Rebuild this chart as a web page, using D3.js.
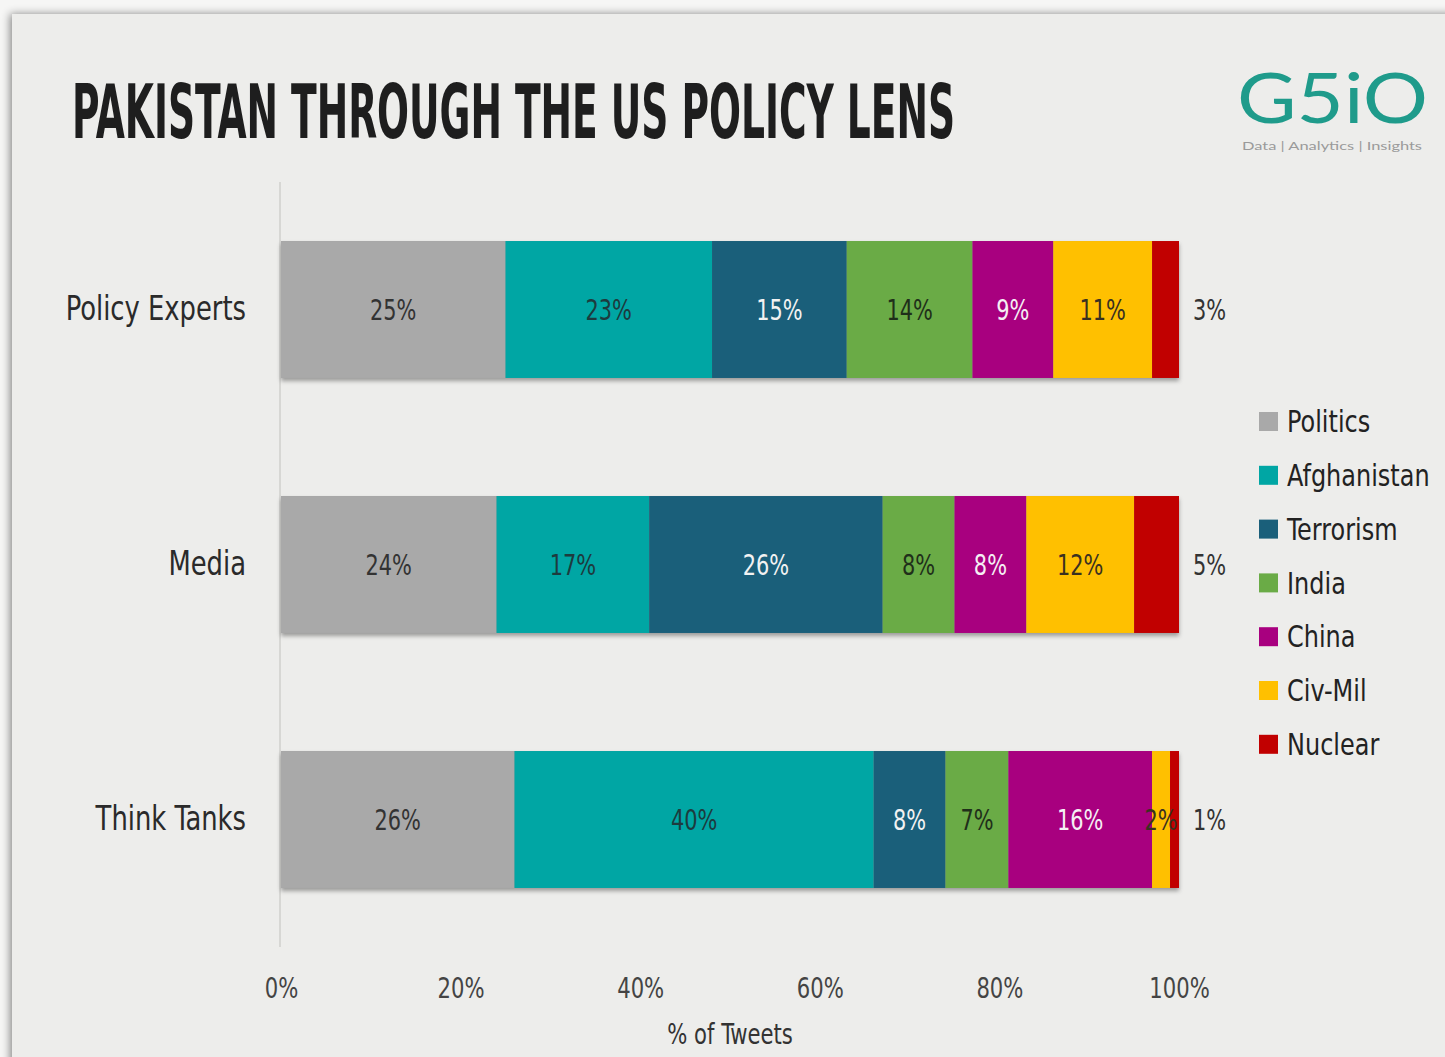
<!DOCTYPE html>
<html>
<head>
<meta charset="utf-8">
<script src="https://cdn.jsdelivr.net/npm/d3@7"></script>
<style>
  body { margin: 0; background: #f6f6f5; }
  #container { width: 1445px; height: 1057px; }
  text { font-family: "DejaVu Sans Condensed", "DejaVu Sans", sans-serif; }
</style>
</head>
<body>
<div id="container"></div>
<script>
// data
const groups = ["Policy Experts", "Media", "Think Tanks"];
const topics = ["Politics", "Afghanistan", "Terrorism", "India", "China", "Civ-Mil", "Nuclear"];
const policyExperts = [25, 23, 15, 14, 9, 11, 3];
const media = [24, 17, 26, 8, 8, 12, 5];
const thinkTanks = [26, 40, 8, 7, 16, 2, 1];
const xTicks = [0, 20, 40, 60, 80, 100];
const colors = ["#a9a9a9", "#00a6a4", "#1a5f7a", "#6aab46", "#a8007f", "#ffc000", "#c10000"];
const labelColors = ["#333", "#1d3b3e", "#f2f2f2", "#1f2f1a", "#f5eef4", "#3a3020", "#333"];

const w = 1445;
const h = 1057;
const squeeze = "scale(0.84,1)";
const svg = d3.select("#container")
  .append("svg")
  .attr("width", w)
  .attr("height", h);

const defs = svg.append("defs");
const sh = defs.append("filter").attr("id", "panelShadow").attr("x", "-5%").attr("y", "-5%").attr("width", "110%").attr("height", "110%");
sh.append("feDropShadow").attr("dx", -2).attr("dy", 0).attr("stdDeviation", 4).attr("flood-color", "#000").attr("flood-opacity", 0.45);
const bs = defs.append("filter").attr("id", "barShadow").attr("x", "-5%").attr("y", "-10%").attr("width", "110%").attr("height", "130%");
bs.append("feDropShadow").attr("dx", 0).attr("dy", 3).attr("stdDeviation", 2).attr("flood-color", "#000").attr("flood-opacity", 0.35);

// panel
svg.append("rect")
  .attr("x", 12).attr("y", 14)
  .attr("width", w + 20).attr("height", h + 20)
  .attr("fill", "#ededeb")
  .attr("filter", "url(#panelShadow)");

// title
svg.append("text")
  .attr("x", 72).attr("y", 138)
  .attr("textLength", 883)
  .attr("lengthAdjust", "spacingAndGlyphs")
  .style("font-weight", "bold")
  .style("font-size", "75px")
  .attr("fill", "#1e1e1e")
  .text("PAKISTAN THROUGH THE US POLICY LENS");

// logo
svg.append("text")
  .attr("x", 1237).attr("y", 123)
  .attr("textLength", 191)
  .attr("lengthAdjust", "spacingAndGlyphs")
  .style("font-family", "Lato, 'Open Sans', sans-serif")
  .style("font-size", "70px")
  .attr("fill", "#1f9b8b")
  .text("G5iO");
svg.append("text")
  .attr("x", 1242).attr("y", 150)
  .attr("textLength", 180)
  .attr("lengthAdjust", "spacingAndGlyphs")
  .style("font-family", "Lato, sans-serif")
  .style("font-size", "11px")
  .attr("fill", "#9a9a9a")
  .text("Data | Analytics | Insights");

const xScale = d3.scaleLinear().domain([0, 100]).range([281, 1179]);
const yScale = d3.scaleBand().domain(groups).range([182, 947]).paddingInner(0.463).paddingOuter(0.2315);

// vertical axis line
svg.append("line")
  .attr("x1", xScale(0) - 1).attr("x2", xScale(0) - 1)
  .attr("y1", yScale.range()[0]).attr("y2", yScale.range()[1])
  .attr("stroke", "#cfcfcd").attr("stroke-width", 1.5);

// x axis
const xAxis = d3.axisBottom(xScale).tickValues(xTicks).tickSize(0).tickPadding(0).tickFormat((d) => d + "%");
const gx = svg.append("g")
  .attr("transform", "translate(0, 978)")
  .call(xAxis);
gx.select(".domain").remove();
gx.selectAll("text")
  .style("font-size", "28px")
  .attr("fill", "#444")
  .attr("dy", "0.71em")
  .attr("transform", squeeze);

svg.append("text")
  .attr("transform", "translate(" + ((xScale(0) + xScale(100)) / 2) + ",1044) " + squeeze)
  .attr("text-anchor", "middle")
  .style("font-size", "28px")
  .attr("fill", "#333")
  .text("% of Tweets");

// y axis labels
const yAxis = d3.axisLeft(yScale).tickSize(0).tickPadding(0);
const gy = svg.append("g")
  .attr("transform", "translate(246, 0)")
  .call(yAxis);
gy.select(".domain").remove();
gy.selectAll("text")
  .style("font-size", "33px")
  .attr("fill", "#2a2a2a")
  .attr("dy", "0.32em")
  .attr("transform", "scale(0.87,1)");

// stacked data
const rows = [policyExperts, media, thinkTanks].map((vals, gi) => {
  const r = { group: groups[gi] };
  topics.forEach((t, i) => { r[t] = vals[i]; });
  return r;
});
const stacked = d3.stack().keys(topics)(rows);

// shadow under whole bars
svg.append("g")
  .selectAll("rect")
  .data(groups)
  .enter()
  .append("rect")
  .attr("x", xScale(0))
  .attr("y", (d) => yScale(d))
  .attr("width", xScale(100) - xScale(0))
  .attr("height", yScale.bandwidth())
  .attr("fill", "#999")
  .attr("filter", "url(#barShadow)");

const layers = svg.selectAll("g.layer")
  .data(stacked)
  .enter()
  .append("g")
  .attr("class", "layer")
  .attr("fill", (d, i) => colors[i]);

layers.selectAll("rect")
  .data((d) => d)
  .enter()
  .append("rect")
  .attr("x", (d) => xScale(d[0]))
  .attr("y", (d) => yScale(d.data.group))
  .attr("width", (d) => xScale(d[1]) - xScale(d[0]))
  .attr("height", yScale.bandwidth());

// value labels
stacked.forEach((layer, i) => {
  const last = i === topics.length - 1;
  svg.append("g")
    .selectAll("text")
    .data(layer)
    .enter()
    .append("text")
    .attr("transform", (d) => {
      const x = last ? xScale(100) + 14 : xScale((d[0] + d[1]) / 2);
      const y = yScale(d.data.group) + yScale.bandwidth() / 2;
      return "translate(" + x + "," + y + ") scale(0.8,1)";
    })
    .attr("dy", "0.35em")
    .attr("text-anchor", last ? "start" : "middle")
    .style("font-size", "29px")
    .attr("fill", last ? "#333" : labelColors[i])
    .text((d) => (d[1] - d[0]) + "%");
});

// legend
const legend = svg.append("g").attr("transform", "translate(1259, 421)");
const items = legend.selectAll("g")
  .data(topics)
  .enter()
  .append("g")
  .attr("transform", (d, i) => "translate(0," + (i * 53.8) + ")");
items.append("rect")
  .attr("x", 0).attr("y", -9)
  .attr("width", 19).attr("height", 19)
  .attr("fill", (d, i) => colors[i]);
items.append("text")
  .attr("transform", "translate(28,0) scale(0.86,1)")
  .attr("dy", "0.36em")
  .style("font-size", "31px")
  .attr("fill", "#222")
  .text((d) => d);
</script>
</body>
</html>
